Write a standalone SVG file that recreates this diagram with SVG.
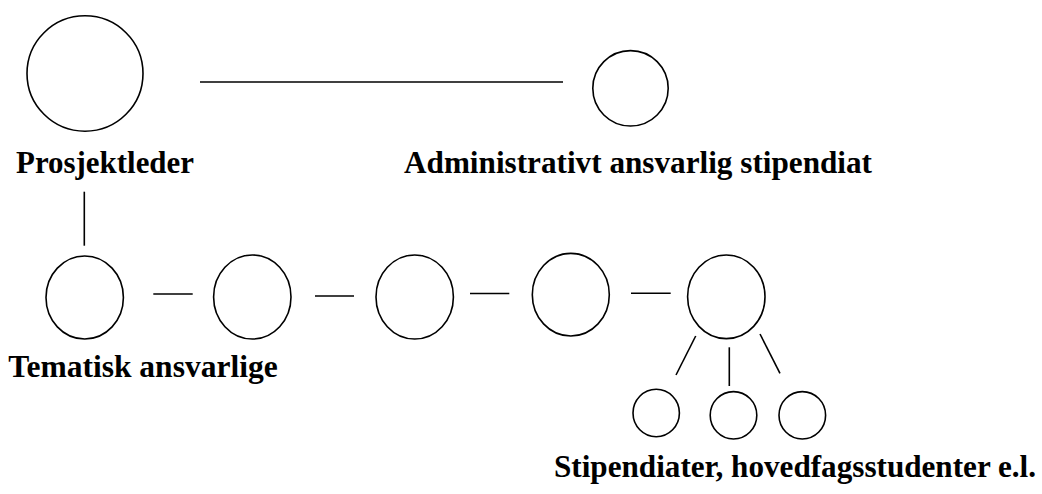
<svg xmlns="http://www.w3.org/2000/svg" width="1042" height="494" viewBox="0 0 1042 494">
<style>
.n{fill:none;stroke:#000;stroke-width:1.6}
.c line{stroke:#000;stroke-width:1.6}
text{font-family:"Liberation Serif","Times New Roman",serif;font-weight:bold;font-size:32px;fill:#000}
text.s{font-size:30.8px}
</style>
<rect width="1042" height="494" fill="#fff"/>
<g class="c" id="connectors">
<line x1="200" y1="82" x2="563" y2="82"/>
<line x1="84.3" y1="191.7" x2="84.3" y2="245.7"/>
<line x1="153.3" y1="294" x2="192.7" y2="294"/>
<line x1="315" y1="296" x2="354" y2="296"/>
<line x1="470" y1="293.5" x2="509.3" y2="293.5"/>
<line x1="631" y1="293.3" x2="670.7" y2="293.3"/>
<line x1="695.7" y1="336" x2="676" y2="375"/>
<line x1="729.3" y1="347.3" x2="729.3" y2="386"/>
<line x1="760" y1="334" x2="780" y2="373.3"/>
</g>
<g id="prosjektleder">
<ellipse class="n" cx="85" cy="73.5" rx="58" ry="57.7"/>
<text x="16" y="173" textLength="178" lengthAdjust="spacingAndGlyphs">Prosjektleder</text>
</g>
<g id="admin">
<ellipse class="n" cx="630.5" cy="88.3" rx="37.7" ry="37.7"/>
<text x="404" y="173" textLength="468" lengthAdjust="spacingAndGlyphs">Administrativt ansvarlig stipendiat</text>
</g>
<g id="tema1">
<ellipse class="n" cx="84.7" cy="297.5" rx="38.7" ry="41.5"/>
<text x="8.3" y="377.3" textLength="269.4" lengthAdjust="spacingAndGlyphs">Tematisk ansvarlige</text>
</g>
<g id="tema2"><ellipse class="n" cx="252.3" cy="297" rx="38.7" ry="42"/></g>
<g id="tema3"><ellipse class="n" cx="414.7" cy="297" rx="38.7" ry="42"/></g>
<g id="tema4"><ellipse class="n" cx="570.8" cy="294.7" rx="38.5" ry="41.3"/></g>
<g id="tema5"><ellipse class="n" cx="726.3" cy="296.8" rx="38.7" ry="41.8"/></g>
<g id="stip1"><ellipse class="n" cx="656.2" cy="413" rx="23.2" ry="23.7"/></g>
<g id="stip2"><ellipse class="n" cx="733.5" cy="415.3" rx="23.3" ry="23.7"/></g>
<g id="stip3"><ellipse class="n" cx="802.3" cy="415.3" rx="23.3" ry="23.7"/></g>
<g id="stiplabel">
<text class="s" x="554" y="477.3" textLength="482" lengthAdjust="spacingAndGlyphs">Stipendiater, hovedfagsstudenter e.l.</text>
</g>
</svg>
